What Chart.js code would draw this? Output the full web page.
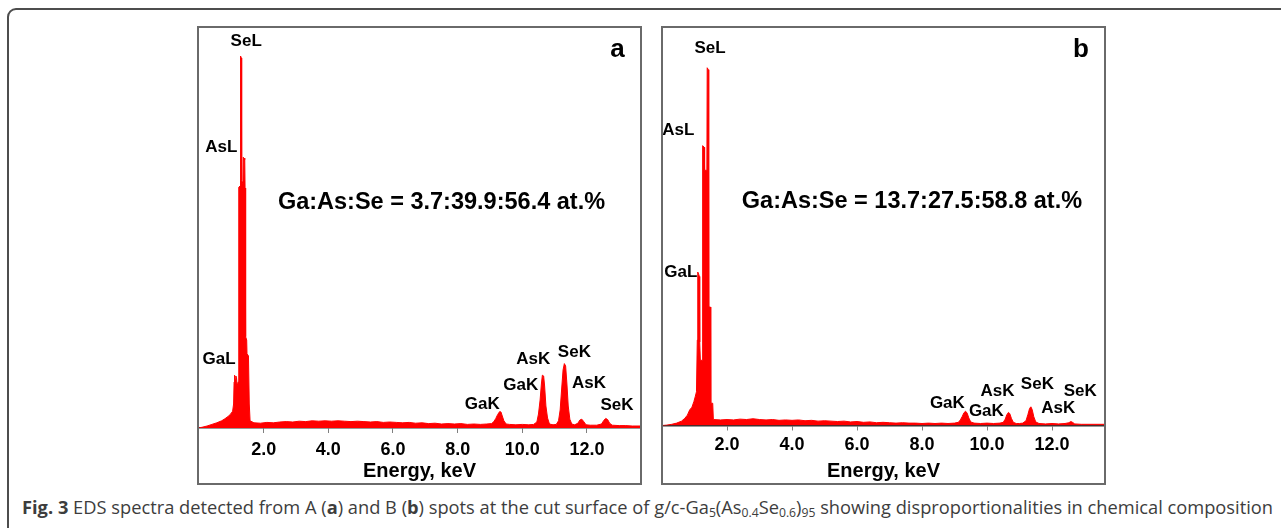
<!DOCTYPE html>
<html><head><meta charset="utf-8">
<script src="https://cdn.jsdelivr.net/npm/chart.js@4.4.1/dist/chart.umd.min.js"></script>
<style>
html,body{margin:0;padding:0;background:#fff;}
body{width:1281px;height:528px;overflow:hidden;position:relative;}
#outer{position:absolute;left:7px;top:8px;width:1300px;height:560px;border:2px solid #4d4d4d;border-radius:9px;box-sizing:border-box;}
.frame{position:absolute;top:26px;width:445px;height:459px;border:2px solid #6a6a6a;box-sizing:border-box;}
#frameA{left:197px;} #frameB{left:661px;}
canvas{position:absolute;top:28px;}
#cA{left:199px;} #cB{left:663px;}
#caption{position:absolute;left:22px;top:498px;font-family:'Open Sans',sans-serif;font-size:18px;line-height:18px;color:#3d3d3d;white-space:nowrap;transform-origin:0 0;}
#caption sub{font-size:12px;vertical-align:-3px;line-height:0;}
</style>
</head><body>
<div id="outer"></div>
<div class="frame" id="frameA"></div>
<div class="frame" id="frameB"></div>
<canvas id="cA" width="441" height="455"></canvas>
<canvas id="cB" width="441" height="455"></canvas>
<div id="caption"><b>Fig. 3</b> EDS spectra detected from A (<b>a</b>) and B (<b>b</b>) spots at the cut surface of g/c-Ga<sub>5</sub>(As<sub>0.4</sub>Se<sub>0.6</sub>)<sub>95</sub> showing disproportionalities in chemical composition</div>
<script>
// ---- data (energy in keV, counts in relative units, 0-100) ----
const energyA = [0.00,0.10,0.25,0.40,0.55,0.70,0.80,0.90,0.98,1.04,1.07,1.085,1.10,1.12,1.14,1.16,1.18,1.21,1.225,1.235,1.27,1.28,1.29,1.31,1.32,1.36,1.37,1.40,1.415,1.425,1.435,1.45,1.475,1.485,1.53,1.555,1.58,1.70,1.90,2.10,2.30,2.50,2.70,2.90,3.10,3.30,3.50,3.70,3.90,4.10,4.30,4.50,4.70,4.90,5.10,5.30,5.50,5.70,5.90,6.10,6.30,6.50,6.70,6.90,7.10,7.30,7.50,7.70,7.90,8.10,8.30,8.50,8.70,8.90,9.05,9.12,9.18,9.24,9.30,9.34,9.38,9.43,9.50,9.60,9.80,10.00,10.20,10.35,10.45,10.50,10.55,10.59,10.62,10.66,10.69,10.73,10.78,10.84,10.95,11.05,11.12,11.17,11.21,11.26,11.30,11.34,11.38,11.42,11.47,11.53,11.62,11.72,11.78,11.84,11.90,11.97,12.10,12.30,12.45,12.52,12.58,12.64,12.70,12.78,13.00,13.20,13.40,13.65];
const countsA = [0,0.2,0.5,0.9,1.3,1.8,2.3,2.9,3.5,4.2,6.0,11.5,13.2,12.0,13.0,12.6,10.5,11.5,22.0,60.2,60.5,61.0,93.0,92.5,62.0,61.0,67.7,67.0,67.5,60.0,38.0,22.8,22.0,18.6,18.0,6.0,1.8,1.3,1.2,1.4,1.3,1.5,1.6,1.5,1.7,1.6,1.8,1.7,1.8,1.7,1.8,1.7,1.6,1.7,1.6,1.5,1.6,1.4,1.5,1.4,1.3,1.4,1.2,1.3,1.1,1.2,1.0,1.1,1.0,1.1,0.9,1.0,0.9,1.0,1.1,1.6,2.4,3.4,4.1,4.0,3.0,1.8,1.0,0.9,0.8,0.9,0.8,0.9,1.5,3.5,7.0,11.0,13.2,13.0,10.5,5.5,2.5,1.0,0.8,0.9,1.8,4.5,9.0,14.5,16.1,15.5,11.0,5.5,2.2,1.0,0.8,1.2,2.0,2.2,1.6,0.8,0.7,0.7,1.0,1.9,2.4,2.1,1.2,0.7,0.6,0.6,0.5,0.5];

const energyB = [0.00,0.15,0.30,0.45,0.60,0.70,0.78,0.85,0.92,0.98,1.02,1.06,1.085,1.10,1.13,1.15,1.16,1.18,1.24,1.25,1.30,1.31,1.38,1.39,1.425,1.435,1.44,1.49,1.50,1.56,1.58,1.80,2.00,2.20,2.40,2.60,2.80,3.00,3.20,3.40,3.60,3.80,4.00,4.20,4.40,4.60,4.80,5.00,5.20,5.40,5.60,5.80,6.00,6.20,6.40,6.60,6.80,7.00,7.20,7.40,7.60,7.80,8.00,8.20,8.40,8.60,8.80,9.00,9.12,9.18,9.24,9.29,9.34,9.39,9.44,9.50,9.60,9.80,10.00,10.20,10.40,10.50,10.56,10.61,10.66,10.70,10.75,10.81,10.90,11.00,11.10,11.20,11.26,11.31,11.35,11.39,11.44,11.50,11.60,11.80,12.00,12.20,12.40,12.52,12.58,12.63,12.70,12.90,13.20,13.60];
const countsB = [0,0.1,0.3,0.6,1.1,1.8,2.6,3.9,4.6,6.0,7.2,8.5,21.5,38.6,38.0,37.5,21.0,16.4,16.4,70.4,70.0,64.2,64.2,90.0,89.5,64.0,29.8,29.8,5.6,5.6,1.5,1.4,1.5,1.4,1.6,1.5,1.7,1.5,1.4,1.5,1.3,1.4,1.3,1.4,1.2,1.3,1.1,1.2,1.1,1.0,1.1,0.9,1.0,0.8,0.9,0.7,0.8,0.7,0.6,0.7,0.6,0.6,0.5,0.6,0.5,0.6,0.5,0.6,0.8,1.4,2.3,3.2,3.6,3.1,1.9,0.9,0.6,0.5,0.6,0.5,0.6,0.8,1.6,2.7,3.3,3.0,1.8,0.8,0.5,0.5,0.6,1.2,2.8,4.3,4.7,4.0,2.2,0.9,0.5,0.4,0.5,0.4,0.5,0.7,1.0,0.8,0.4,0.3,0.3,0.3];

const tickValues = [2, 4, 6, 8, 10, 12];
const axisTitle = 'Energy, keV';
const peakNames = ['SeL','AsL','GaL','GaK','GaK','AsK','SeK','AsK','SeK'];
const compositionA = 'Ga:As:Se = 3.7:39.9:56.4 at.%';
const compositionB = 'Ga:As:Se = 13.7:27.5:58.8 at.%';
const panelNames = ['a', 'b'];

// ---- annotation anchors (keV, counts; text centre / baseline) ----
const anchorsA = [[1.46,95.6],[0.69,68.9],[0.62,16.1],[8.76,4.85],[9.95,9.5],[10.34,16.1],[11.61,17.7],[12.06,10.0],[12.93,4.5]];
const anchorsB = [[1.48,93.6],[0.50,73.1],[0.58,37.4],[8.78,4.45],[9.98,2.5],[10.32,7.5],[11.55,9.3],[12.19,3.2],[12.87,7.5]];

const FONT = '"Liberation Sans", Arial, sans-serif';

const textPlugin = {
  id: 'peakText',
  afterDatasetsDraw(chart, args, opts) {
    const {ctx, scales: {x, y}} = chart;
    ctx.save();
    ctx.fillStyle = '#000';
    ctx.textAlign = 'center';
    ctx.textBaseline = 'alphabetic';
    opts.items.forEach(it => {
      ctx.font = 'bold ' + it.size + 'px ' + FONT;
      ctx.fillText(it.text, x.getPixelForValue(it.x), y.getPixelForValue(it.y));
    });
    ctx.restore();
  }
};

function buildItems(anchors, comp, compPos, letter, letterPos) {
  const items = peakNames.map((n, i) => ({text: n, x: anchors[i][0], y: anchors[i][1], size: 17}));
  items.push({text: comp, x: compPos[0], y: compPos[1], size: 23.5});
  items.push({text: letter, x: letterPos[0], y: letterPos[1], size: 26});
  return items;
}

function makeChart(id, energy, counts, xMin, xMax, axisHeight, tickPad, items) {
  return new Chart(document.getElementById(id), {
    type: 'line',
    data: {
      datasets: [{
        data: energy.map((e, i) => ({x: e, y: counts[i]})),
        borderColor: 'rgb(255,0,0)',
        backgroundColor: 'rgb(255,0,0)',
        borderWidth: 1,
        pointRadius: 0,
        tension: 0,
        fill: 'origin'
      }]
    },
    options: {
      responsive: false,
      animation: false,
      devicePixelRatio: 1,
      layout: {padding: 0},
      plugins: {legend: {display: false}, tooltip: {enabled: false}, peakText: {items}},
      scales: {
        x: {
          type: 'linear', min: xMin, max: xMax,
          afterBuildTicks: s => { s.ticks = tickValues.map(v => ({value: v})); },
          afterFit: s => { s.height = axisHeight; },
          grid: {display: true, drawOnChartArea: false, drawTicks: true, tickLength: 5, color: '#808080', lineWidth: 1},
          border: {display: true, color: '#333', width: 1.5},
          ticks: {padding: tickPad, color: '#000', autoSkip: false, maxRotation: 0,
                  font: {family: FONT, size: 18, weight: 'bold'},
                  callback: v => Number(v).toFixed(1)},
          title: {display: true, text: axisTitle, color: '#000',
                  font: {family: FONT, size: 20, weight: 'bold', lineHeight: 1.2},
                  padding: {top: 0, bottom: 0}}
        },
        y: {display: false, min: 0, max: 100}
      }
    },
    plugins: [textPlugin]
  });
}

makeChart('cA', energyA, countsA, 0, 13.64, 55, 6,
  buildItems(anchorsA, compositionA, [7.50, 54.7], panelNames[0], [12.94, 92.7]));
makeChart('cB', energyB, countsB, 0.03, 13.6, 57.5, 4,
  buildItems(anchorsB, compositionB, [7.69, 54.7], panelNames[1], [12.89, 92.8]));

function fitCaption() {
  const c = document.getElementById('caption');
  c.style.transform = 'none';
  const w = c.getBoundingClientRect().width;
  c.style.transform = 'scaleX(' + (1251 / w) + ')';
}
fitCaption();
if (document.fonts && document.fonts.ready) document.fonts.ready.then(fitCaption);
</script>
</body></html>
